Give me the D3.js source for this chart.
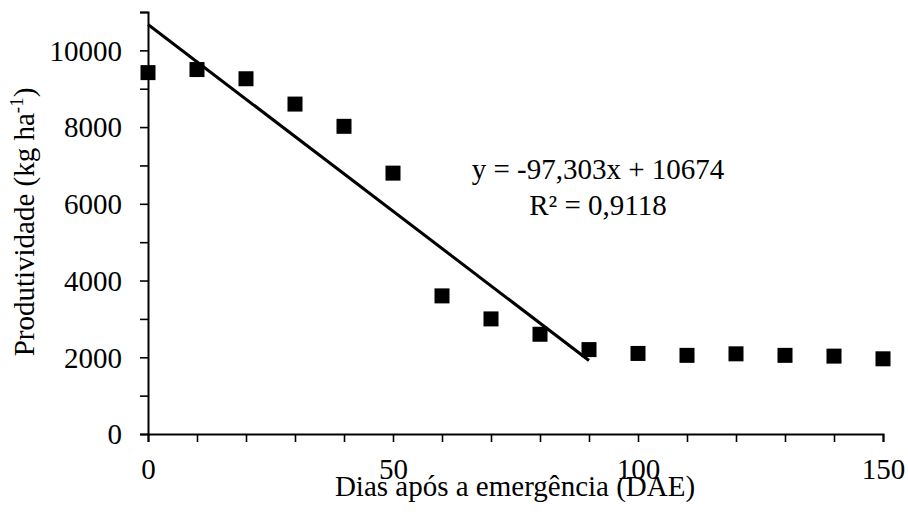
<!DOCTYPE html>
<html>
<head>
<meta charset="utf-8">
<script src="https://cdn.jsdelivr.net/npm/d3@7"></script>
</head>
<body style="margin:0">
<svg id="chart" width="908" height="527"></svg>
<script>
// Days after emergence and observed yield
const days = [0, 10, 20, 30, 40, 50, 60, 70, 80, 90, 100, 110, 120, 130, 140, 150];
const yieldKg = [9420, 9500, 9260, 8600, 8020, 6800, 3600, 3000, 2600, 2200, 2100, 2050, 2090, 2050, 2030, 1960];

// Fitted linear regression (valid over 0–90 days)
const slope = -97.303;
const intercept = 10674;
const fitRange = [0, 90];
const equationLines = ["y = -97,303x + 10674", "R² = 0,9118"];

const xTickLabels = [0, 50, 100, 150];
const yTickLabels = [0, 2000, 4000, 6000, 8000, 10000];

const FONT = "Liberation Serif";
const fontSize = 29;

const svg = d3.select("#chart");

const x = d3.scaleLinear().domain([0, 150]).range([148, 883]);
const y = d3.scaleLinear().domain([0, 11000]).range([434, 12]);

// Axes: minor ticks every 10 days / 1000 kg, labels on the major ones
const xAxis = d3.axisBottom(x)
  .tickValues(d3.range(0, 151, 10))
  .tickSize(8)
  .tickFormat(d => xTickLabels.includes(d) ? d : "");
const yAxis = d3.axisLeft(y)
  .tickValues(d3.range(0, 11001, 1000))
  .tickSize(8)
  .tickFormat(d => yTickLabels.includes(d) ? d : "");

const gx = svg.append("g").attr("transform", `translate(0,${y(0)})`).call(xAxis);
const gy = svg.append("g").attr("transform", `translate(${x(0)},0)`).call(yAxis);

[gx, gy].forEach(g => {
  g.attr("font-family", null).attr("font-size", null);
  g.select(".domain").attr("stroke", "#000").attr("stroke-width", 2);
  g.selectAll(".tick line").attr("stroke", "#000").attr("stroke-width", 1.6);
  g.selectAll(".tick text")
    .style("font-family", FONT)
    .style("font-size", fontSize + "px")
    .attr("fill", "#000");
});
gx.selectAll(".tick text").attr("dy", null).attr("y", 45);
gy.selectAll(".tick text").attr("x", -26).attr("dy", "0.34em");

// Regression line
svg.append("line")
  .attr("x1", x(fitRange[0])).attr("y1", y(intercept + slope * fitRange[0]))
  .attr("x2", x(fitRange[1])).attr("y2", y(intercept + slope * fitRange[1]))
  .attr("stroke", "#000").attr("stroke-width", 3);

// Observed points as filled squares
const sq = 15;
svg.append("g").selectAll("rect")
  .data(days.map((d, i) => ({ d, v: yieldKg[i] })))
  .join("rect")
  .attr("x", p => x(p.d) - sq / 2)
  .attr("y", p => y(p.v) - sq / 2)
  .attr("width", sq).attr("height", sq)
  .attr("fill", "#000");

function label(sel) {
  return sel.style("font-family", FONT).style("font-size", fontSize + "px").attr("fill", "#000");
}

// Equation and R²
label(svg.append("text")).attr("x", 598).attr("y", 179).attr("text-anchor", "middle").text(equationLines[0]);
label(svg.append("text")).attr("x", 598).attr("y", 215).attr("text-anchor", "middle").text(equationLines[1]);

// Axis titles
label(svg.append("text")).attr("x", 515).attr("y", 496).attr("text-anchor", "middle")
  .text("Dias após a emergência (DAE)");

const yt = label(svg.append("text"))
  .attr("transform", "translate(34,222) rotate(-90)")
  .attr("text-anchor", "middle");
yt.append("tspan").text("Produtividade (kg ha");
yt.append("tspan").style("font-size", Math.round(fontSize * 0.65) + "px").attr("dy", -11).text("-1");
yt.append("tspan").attr("dy", 11).text(")");
</script>
</body>
</html>
